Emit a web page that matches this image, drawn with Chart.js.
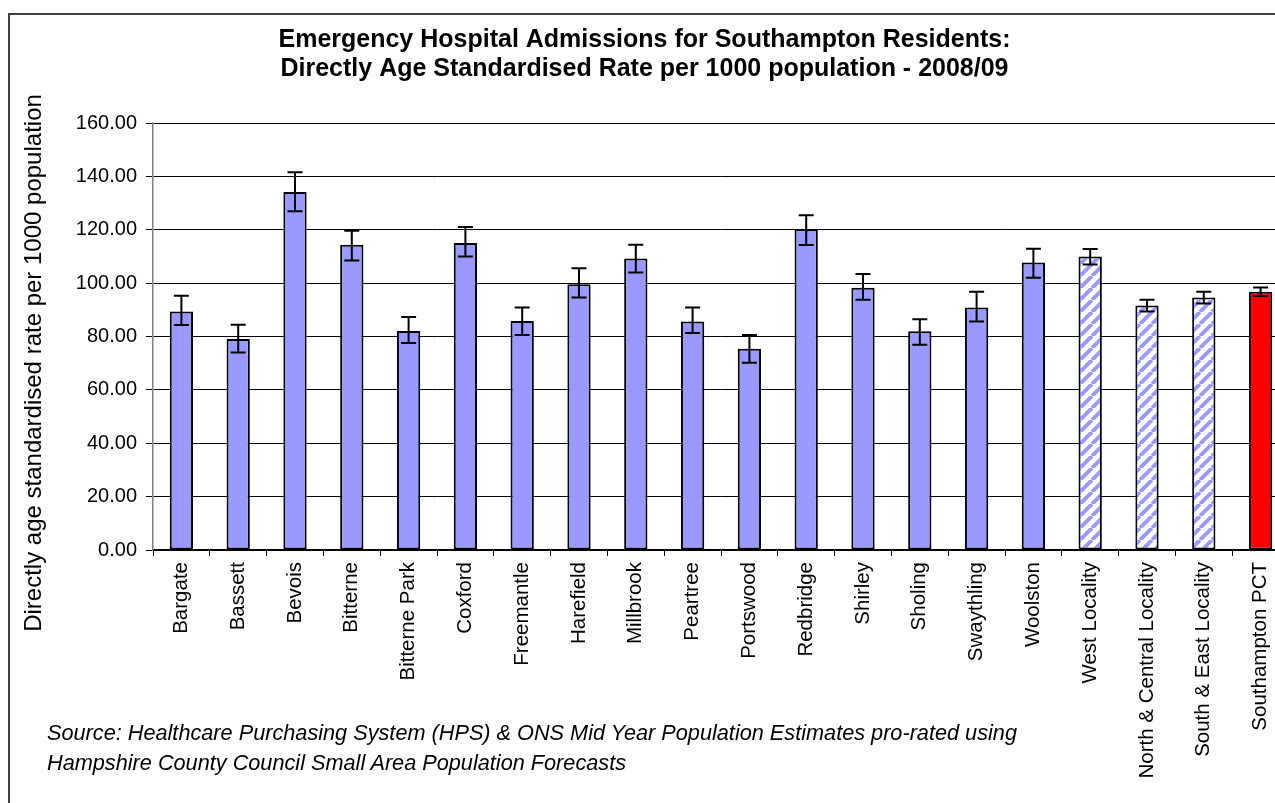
<!DOCTYPE html>
<html>
<head>
<meta charset="utf-8">
<title>Emergency Hospital Admissions - Southampton</title>
<script src="https://cdn.jsdelivr.net/npm/chart.js@4.4.1/dist/chart.umd.min.js"></script>
<style>
  body { margin: 0; background: #fff; overflow: hidden; width: 1275px; height: 803px; position: relative; }
  #frame { position: absolute; left: 8px; top: 13px; width: 1400px; height: 900px; border: 2px solid #404040; }
  #chart { position: absolute; left: 0; top: 0; }
  #source { position: absolute; left: 47px; top: 718px; font-family: "Liberation Sans", Arial, sans-serif;
            font-style: italic; font-size: 21.7px; line-height: 30px; color: #000; white-space: nowrap; }
</style>
</head>
<body>
<div id="frame"></div>
<canvas id="chart" width="1300" height="803"></canvas>
<div id="source">Source: Healthcare Purchasing System (HPS) &amp; ONS Mid Year Population Estimates pro-rated using<br>Hampshire County Council Small Area Population Forecasts</div>
<script>
const categories = ['Bargate', 'Bassett', 'Bevois', 'Bitterne', 'Bitterne Park', 'Coxford', 'Freemantle',
  'Harefield', 'Millbrook', 'Peartree', 'Portswood', 'Redbridge', 'Shirley', 'Sholing', 'Swaythling',
  'Woolston', 'West Locality', 'North & Central Locality', 'South & East Locality', 'Southampton PCT'];
const rates = [89.4, 79.1, 134.1, 114.4, 82.1, 115.0, 85.8, 99.6, 109.2, 85.6, 75.4, 120.3, 98.3, 82.0, 90.9,
  107.7, 110.0, 91.6, 94.6, 96.8];
const upperCI = [95.3, 84.4, 141.5, 119.6, 87.3, 121.0, 90.9, 105.6, 114.4, 90.9, 80.6, 125.4, 103.4, 86.5, 96.8,
  112.9, 112.8, 93.8, 96.8, 98.4];
const lowerCI = [84.3, 74.0, 126.9, 108.5, 77.6, 110.0, 80.6, 94.6, 104.0, 81.3, 70.2, 114.3, 93.8, 76.9, 85.6,
  102.0, 107.0, 89.4, 92.4, 95.2];
const localities = ['West Locality', 'North & Central Locality', 'South & East Locality'];
const yTicks = [0, 20, 40, 60, 80, 100, 120, 140, 160];

const FONT = '"Liberation Sans", Arial, sans-serif';
const canvas = document.getElementById('chart');
const ctx = canvas.getContext('2d');

// hatched fill for the locality bars
function makeHatch() {
  const s = 12;
  const c = document.createElement('canvas');
  c.width = s; c.height = s;
  const g = c.getContext('2d');
  g.fillStyle = '#fff';
  g.fillRect(0, 0, s, s);
  g.strokeStyle = '#9999ff';
  g.lineWidth = 4;
  g.beginPath();
  for (let k = -1; k <= 1; k++) {
    g.moveTo(k * s, s);
    g.lineTo(k * s + s, 0);
  }
  g.stroke();
  return ctx.createPattern(c, 'repeat');
}
const hatch = makeHatch();

function barFill(c) {
  const name = categories[c.dataIndex];
  if (name === 'Southampton PCT') return '#ff0000';
  if (localities.includes(name)) return hatch;
  return '#9999ff';
}

const errorBars = {
  id: 'errorBars',
  afterDatasetsDraw(chart) {
    const meta = chart.getDatasetMeta(0);
    const y = chart.scales.y;
    const c = chart.ctx;
    c.save();
    c.strokeStyle = '#000';
    c.lineWidth = 2;
    meta.data.forEach((bar, i) => {
      const yt = y.getPixelForValue(upperCI[i]);
      const yb = y.getPixelForValue(lowerCI[i]);
      c.beginPath();
      c.moveTo(bar.x, yt); c.lineTo(bar.x, yb);
      c.moveTo(bar.x - 7.5, yt); c.lineTo(bar.x + 7.5, yt);
      c.moveTo(bar.x - 7.5, yb); c.lineTo(bar.x + 7.5, yb);
      c.stroke();
    });
    c.restore();
  }
};

const yTitle = {
  id: 'yTitle',
  afterDraw(chart) {
    const c = chart.ctx;
    c.save();
    c.translate(34, 363);
    c.rotate(-Math.PI / 2);
    c.font = '24px ' + FONT;
    c.fillStyle = '#000';
    c.textAlign = 'center';
    c.textBaseline = 'middle';
    c.fillText('Directly age standardised rate per 1000 population', 0, 0);
    c.restore();
  }
};

new Chart(ctx, {
  type: 'bar',
  data: {
    labels: categories,
    datasets: [{
      data: rates,
      backgroundColor: barFill,
      borderColor: '#000',
      borderWidth: 2,
      borderSkipped: false,
      categoryPercentage: 1,
      barPercentage: 0.41
    }]
  },
  options: {
    responsive: false,
    animation: false,
    devicePixelRatio: 1,
    layout: { padding: { left: 0, right: 11, top: 0, bottom: 0 } },
    plugins: {
      legend: { display: false },
      tooltip: { enabled: false },
      title: {
        display: true,
        text: ['Emergency Hospital Admissions for Southampton Residents:',
               'Directly Age Standardised Rate per 1000 population - 2008/09'],
        color: '#000',
        font: { family: FONT, size: 25, weight: 'bold', lineHeight: 1.16 },
        padding: { top: 26, bottom: 39 }
      }
    },
    scales: {
      x: {
        offset: true,
        afterFit(s) { s.height = 253; },
        grid: { drawOnChartArea: false, drawTicks: true, tickLength: 6, color: '#000', offset: true },
        border: { color: '#000', width: 1.5 },
        ticks: { color: '#000', font: { family: FONT, size: 20.5 }, minRotation: 90, maxRotation: 90,
                 autoSkip: false, padding: 6 }
      },
      y: {
        min: 0,
        max: 160,
        afterFit(s) { s.width = 153; },
        afterBuildTicks(s) { s.ticks = yTicks.map(v => ({ value: v })); },
        grid: { color: '#000', lineWidth: 1, tickLength: 7 },
        border: { color: '#808080', width: 1.5 },
        ticks: { color: '#000', font: { family: FONT, size: 20 }, padding: 9,
                 callback: v => v.toFixed(2) }
      }
    }
  },
  plugins: [errorBars, yTitle]
});
</script>
</body>
</html>
